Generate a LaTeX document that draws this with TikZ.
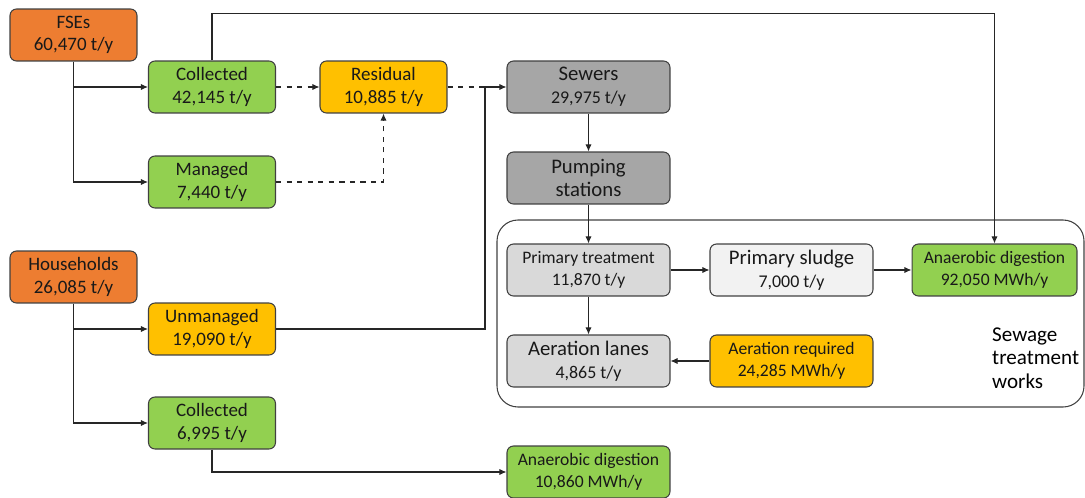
\documentclass[tikz,border=0pt]{standalone}
\usepackage{fontspec}
\setmainfont{Carlito}
\usetikzlibrary{arrows.meta}
\definecolor{boxorange}{HTML}{ED7D31}
\definecolor{boxgreen}{HTML}{92D050}
\definecolor{boxyellow}{HTML}{FFC000}
\definecolor{boxdark}{HTML}{A6A6A6}
\definecolor{boxgrey}{HTML}{D9D9D9}
\definecolor{boxpale}{HTML}{F2F2F2}
\definecolor{edge}{HTML}{404040}
\begin{document}
\begin{tikzpicture}[x=0.02cm, y=-0.02cm, >={Latex[length=4pt,width=3.5pt]},
  flow/.style={draw=edge, line width=0.6pt, rounded corners=0.13cm, align=center,
    minimum width=2.54cm, minimum height=1.04cm, inner sep=1pt, text=black!90,
    font=\fontsize{10.8}{12.8}\selectfont},
  wide/.style={flow, minimum width=3.26cm},
  link/.style={line width=0.6pt, draw=black!85},
  big/.style={font=\fontsize{11.8}{13}\selectfont},
  small/.style={font=\fontsize{10}{12.8}\selectfont}]
  \useasboundingbox (0,0) rectangle (1085,497);

  % Sewage treatment works frame
  \draw[line width=0.6pt, draw=edge, rounded corners=0.42cm] (497,220) rectangle (1084,407);
  \node[anchor=west, align=left, font=\fontsize{12}{13.4}\selectfont] (stw) at (986,358)
    {Sewage\\treatment\\works};

  % FSEs branch
  \node[flow, fill=boxorange] (fse) at (73.5,35) {FSEs\\60,470 t/y};
  \node[flow, fill=boxgreen] (colA) at (212,87) {Collected\\42,145 t/y};
  \node[flow, fill=boxyellow] (res) at (383.5,87) {Residual\\10,885 t/y};
  \node[flow, fill=boxgreen] (man) at (212,182) {Managed\\7,440 t/y};

  % Households branch
  \node[flow, fill=boxorange] (hh) at (73.5,277) {Households\\26,085 t/y};
  \node[flow, fill=boxyellow] (unm) at (212,329) {Unmanaged\\19,090 t/y};
  \node[flow, fill=boxgreen] (colB) at (212,423) {Collected\\6,995 t/y};
  \node[wide, fill=boxgreen, small] (adB) at (588.5,472) {Anaerobic digestion\\10,860 MWh/y};

  % Sewer network
  \node[wide, fill=boxdark, big] (sew) at (588.5,87) {Sewers\\{\fontsize{10.2}{12}\selectfont 29,975 t/y}};
  \node[wide, fill=boxdark, big] (pump) at (588.5,178) {Pumping\\stations};

  % Treatment works
  \node[wide, fill=boxgrey, small] (prim) at (588.5,270) {Primary treatment\\11,870 t/y};
  \node[wide, fill=boxpale, big] (slud) at (791.5,270) {Primary sludge\\{\fontsize{10.2}{12}\selectfont 7,000 t/y}};
  \node[wide, fill=boxgreen, small, minimum width=3.3cm] (adA) at (994.5,270) {Anaerobic digestion\\92,050 MWh/y};
  \node[wide, fill=boxgrey, big] (aer) at (588.5,361) {Aeration lanes\\{\fontsize{10.2}{12}\selectfont 4,865 t/y}};
  \node[wide, fill=boxyellow, small] (req) at (791.5,361) {Aeration required\\24,285 MWh/y};

  \coordinate (join) at (485,87);

  \draw[link, ->] (fse.south) |- (colA.west);
  \draw[link, ->] (fse.south) |- (man.west);
  \draw[link, ->] (colA.north) -- ++(0,-47) -| (adA.north);
  \draw[link, dashed, ->] (colA.east) -- (res.west);
  \draw[link, dashed, ->] (man.east) -| (res.south);
  \draw[link, dashed] (res.east) -- (join);
  \draw[link, ->] (unm.east) -| (join) -- (sew.west);
  \draw[link, ->] (hh.south) |- (unm.west);
  \draw[link, ->] (hh.south) |- (colB.west);
  \draw[link, ->] (colB.south) |- (adB.west);
  \draw[link, ->] (sew) -- (pump);
  \draw[link, ->] (pump) -- (prim);
  \draw[link, ->] (prim) -- (slud);
  \draw[link, ->] (slud) -- (adA);
  \draw[link, ->] (prim) -- (aer);
  \draw[link, ->] (req) -- (aer);
\end{tikzpicture}
\end{document}
